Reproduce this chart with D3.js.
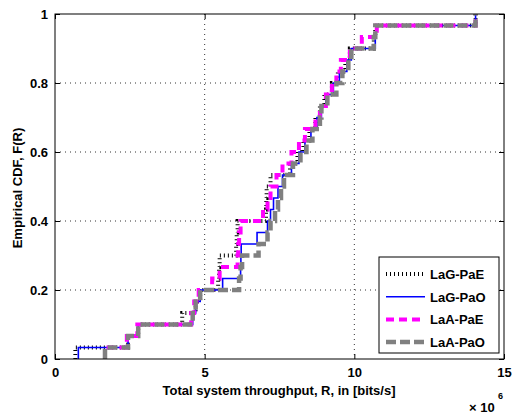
<!DOCTYPE html>
<html><head><meta charset="utf-8">
<script src="https://cdn.jsdelivr.net/npm/d3@7"></script>
<style>body{margin:0;background:#fff}svg{display:block}text{font-family:"Liberation Sans",Arial,sans-serif;font-weight:bold}</style>
</head><body>
<svg id="c" width="512" height="416"></svg>
<script>
// Throughput samples (x 10^6 bits/s), sorted, per scheme
const lagPaE = [0.68, 2.44, 2.78, 4.25, 4.70, 4.85, 5.45, 5.48, 5.50, 6.05, 6.07, 6.10, 7.05, 7.06, 7.07, 7.20, 7.85, 8.10, 8.30, 8.50, 8.70, 8.85, 9.00, 9.25, 9.45, 9.70, 9.85, 10.65, 10.70, 14.05];
const lagPaO = [0.78, 2.44, 2.78, 4.60, 4.70, 4.85, 5.60, 6.20, 6.21, 6.22, 6.75, 7.10, 7.20, 7.30, 7.45, 7.60, 7.90, 8.15, 8.35, 8.55, 8.75, 8.90, 9.05, 9.30, 9.50, 9.75, 9.90, 10.70, 10.72, 14.05];
const laaPaE = [1.67, 2.40, 2.75, 4.55, 4.65, 4.80, 5.25, 5.50, 6.10, 6.12, 6.15, 6.20, 6.95, 7.10, 7.20, 7.40, 7.60, 7.90, 8.15, 8.35, 8.70, 8.85, 9.05, 9.25, 9.40, 9.55, 9.85, 10.25, 10.75, 14.05];
const laaPaO = [1.67, 2.44, 2.78, 4.60, 4.70, 4.85, 6.15, 6.20, 6.25, 6.80, 7.10, 7.20, 7.35, 7.45, 7.55, 7.65, 7.95, 8.20, 8.40, 8.60, 8.85, 8.90, 9.10, 9.40, 9.60, 9.80, 9.90, 10.65, 10.70, 14.05];
const seriesNames = ["LaG-PaE", "LaG-PaO", "LaA-PaE", "LaA-PaO"];
const xTicks = [0, 5, 10, 15];
const yTicks = [0, 0.2, 0.4, 0.6, 0.8, 1];

const svg = d3.select("#c");
const L = 55, R = 504, T = 14, B = 359;
const x = d3.scaleLinear().domain([0, 15]).range([L, R]);
const y = d3.scaleLinear().domain([0, 1]).range([B, T]);

// grid
const g = svg.append("g");
g.selectAll(".gx").data(xTicks.filter(v => v > 0 && v < 15)).enter().append("line")
  .attr("x1", d => x(d)).attr("x2", d => x(d)).attr("y1", T).attr("y2", B)
  .attr("stroke", "#333").attr("stroke-width", 1).attr("stroke-dasharray", "1,4");
g.selectAll(".gy").data(yTicks.filter(v => v > 0 && v < 1)).enter().append("line")
  .attr("y1", d => y(d)).attr("y2", d => y(d)).attr("x1", L).attr("x2", R)
  .attr("stroke", "#333").attr("stroke-width", 1).attr("stroke-dasharray", "1,4");

// series
const styles = [
  {data: lagPaE, color: "#000", width: 4, dash: "1,3"},
  {data: lagPaO, color: "#0000ff", width: 1.6, dash: null},
  {data: laaPaE, color: "#ff00ff", width: 4, dash: "8,5"},
  {data: laaPaO, color: "#808080", width: 4.5, dash: "10,4"}
];
const line = d3.line().x(d => x(d[0])).y(d => y(d[1])).curve(d3.curveStepAfter);
svg.append("clipPath").attr("id", "clp").append("rect").attr("x", L).attr("y", T).attr("width", R - L).attr("height", B - T);
styles.forEach(s => {
  const n = s.data.length;
  const pts = [[s.data[0], 0]].concat(s.data.map((v, i) => [v, (i + 1) / n]));
  svg.append("path").attr("d", line(pts)).attr("fill", "none")
    .attr("stroke", s.color).attr("stroke-width", s.width)
    .attr("stroke-dasharray", s.dash).attr("clip-path", "url(#clp)");
});

// axes box and ticks
svg.append("rect").attr("x", L).attr("y", T).attr("width", R - L).attr("height", B - T)
  .attr("fill", "none").attr("stroke", "#000").attr("stroke-width", 1);
const xa = d3.axisBottom(x).tickValues(xTicks).tickSize(-5).tickPadding(9).tickFormat(d3.format("d"));
const ya = d3.axisLeft(y).tickValues(yTicks).tickSize(-5).tickPadding(7).tickFormat(d => d === 0 || d === 1 ? String(d) : d.toFixed(1));
svg.append("g").attr("transform", `translate(0,${B})`).call(xa);
svg.append("g").attr("transform", `translate(${L},0)`).call(ya);
svg.append("g").attr("transform", `translate(0,${T})`).call(d3.axisTop(x).tickValues(xTicks).tickSize(-5).tickFormat(""));
svg.append("g").attr("transform", `translate(${R},0)`).call(d3.axisRight(y).tickValues(yTicks).tickSize(-5).tickFormat(""));
svg.selectAll(".domain").remove();
svg.selectAll(".tick line").attr("stroke", "#000");
svg.selectAll(".tick text").attr("font-size", 13).attr("fill", "#000")
  .style("font-family", '"Liberation Sans",Arial,sans-serif').style("font-weight", "bold");

// labels
svg.append("text").attr("x", 279).attr("y", 395).attr("text-anchor", "middle").attr("font-size", 13)
  .text("Total system throughput, R, in [bits/s]");
svg.append("text").attr("transform", "translate(22,188) rotate(-90)").attr("text-anchor", "middle").attr("font-size", 13)
  .text("Empirical CDF, F(R)");
svg.append("text").attr("x", 469).attr("y", 412).attr("font-size", 13).text("× 10");
svg.append("text").attr("x", 498).attr("y", 399).attr("font-size", 9).text("6");

// legend
const lg = svg.append("g");
lg.append("rect").attr("x", 379).attr("y", 257).attr("width", 120).attr("height", 96)
  .attr("fill", "#fff").attr("stroke", "#000").attr("stroke-width", 1);
styles.forEach((s, i) => {
  const yy = 274 + i * 22.7;
  lg.append("line").attr("x1", 386).attr("x2", 425).attr("y1", yy).attr("y2", yy)
    .attr("stroke", s.color).attr("stroke-width", s.width).attr("stroke-dasharray", s.dash);
  lg.append("text").attr("x", 430).attr("y", yy + 5).attr("font-size", 13).text(seriesNames[i]);
});
</script>
</body></html>
